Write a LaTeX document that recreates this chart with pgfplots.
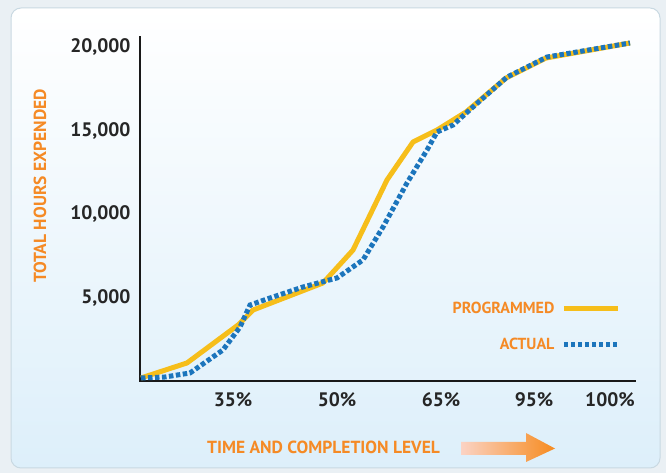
\documentclass[border=0pt]{standalone}
\usepackage{fontspec}
\setmainfont{PT Sans}
\usepackage{pgfplots}
\pgfplotsset{compat=1.18}
\definecolor{prog}{HTML}{F6BE1A}
\definecolor{act}{HTML}{1C75BC}
\definecolor{lbl}{HTML}{F58A25}
\definecolor{outer}{HTML}{EAF0F4}
\definecolor{panelbot}{HTML}{DDEFFA}
\definecolor{edge}{HTML}{C9D9E2}
\definecolor{arrowL}{HTML}{FBD3C4}
\definecolor{arrowR}{HTML}{F68B1F}

\begin{document}
\begin{tikzpicture}[x=1pt,y=1pt]
% background and panel
\fill[outer] (0,0) rectangle (666,473);
\shade[top color=white, bottom color=panelbot, draw=edge, line width=1pt, rounded corners=10pt]
  (11,5) rectangle (660,465);

\begin{axis}[
    at={(140pt,92pt)}, anchor=south west,
    scale only axis,
    width=495pt, height=344pt,
    xmin=0, xmax=495,
    ymin=0, ymax=20600,
    axis x line*=bottom,
    axis y line*=left,
    axis line style={-, line width=2.6pt, black!90, line cap=rect},
    tick style={draw=none},
    major tick length=0pt,
    scaled y ticks=false,
    xtick={93,197,301,394,470},
    xticklabels={35\%,50\%,65\%,95\%,100\%},
    ytick={5000,10000,15000,20000},
    yticklabels={{5,000},{10,000},{15,000},{20,000}},
    ticklabel style={font=\fontsize{19.5}{19.5}\selectfont\bfseries, text=black!85},
    xticklabel style={yshift=-8pt},
    yticklabel style={xshift=-6pt},
    legend cell align=right,
    legend plot pos=right,
    legend image code/.code={\draw[#1] (0pt,0pt) -- (54pt,0pt);},
    legend style={at={(0.977,0.243)}, anchor=north east, draw=none, fill=none,
        font=\fontsize{16}{16}\selectfont\bfseries, text=lbl, row sep=20pt,
        /tikz/every odd column/.append style={column sep=5pt}},
]
\addplot[prog, line width=5pt, line join=round] coordinates {
    (1,180) (47,1080) (98,3350) (113,4250) (183,5870) (213,7840)
    (247,12040) (273,14310) (297,15030) (326,16110) (366,18140)
    (406,19340) (490,20240)
};
\addlegendentry{PROGRAMMED}
\addplot[act, line width=5pt, dash pattern=on 4.5pt off 2.5pt] coordinates {
    (1,180) (25,240) (50,480) (83,1860) (100,3230) (110,4550) (130,4970)
    (163,5630) (197,6170) (223,7250) (243,9220) (267,11860) (287,13830)
    (297,14910) (313,15330) (333,16410) (367,18200) (407,19400) (490,20240)
};
\addlegendentry{ACTUAL}
\end{axis}

% axis titles
\node[rotate=90, text=lbl, font=\fontsize{17.5}{17.5}\selectfont\bfseries] at (40,287) {TOTAL HOURS EXPENDED};
\node[text=lbl, font=\fontsize{17.5}{17.5}\selectfont\bfseries] at (323.5,25.5) {TIME AND COMPLETION LEVEL};
% arrow beside the x title
\shade[left color=arrowL, right color=arrowR]
  (461,18) -- (526,18) -- (526,11) -- (555,24.5) -- (526,40) -- (526,31) -- (461,31) -- cycle;
\end{tikzpicture}
\end{document}
